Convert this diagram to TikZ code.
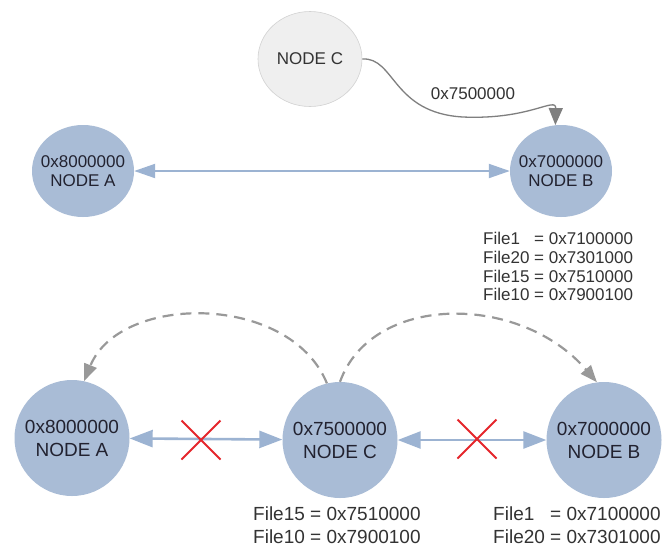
\documentclass[tikz,border=0pt]{standalone}
\usepackage{fontspec}
\setmainfont{Liberation Sans}
\usetikzlibrary{arrows.meta,shapes.geometric,shapes.misc}

\definecolor{nodefill}{HTML}{A9BCD6}
\definecolor{linkblue}{HTML}{9CB3D2}
\definecolor{greynode}{HTML}{EFEFEF}
\definecolor{greyedge}{HTML}{D2D2D2}
\definecolor{dashgrey}{HTML}{999999}
\definecolor{curvegrey}{HTML}{7F7F7F}
\definecolor{crossred}{HTML}{E5262C}
\definecolor{txt}{HTML}{222230}
\definecolor{listtxt}{HTML}{333333}

\tikzset{
  % the ellipse size is fixed by the minimum sizes, not by the text
  peer/.style={ellipse, fill=nodefill, draw=none, inner xsep=-20pt, inner ysep=0pt,
    align=center, text=txt},
  smallpeer/.style={peer, minimum width=102pt, minimum height=92pt,
    font=\fontsize{17}{19}\selectfont},
  bigpeer/.style={peer, minimum width=115pt, minimum height=116pt,
    font=\fontsize{19}{23}\selectfont},
  newpeer/.style={ellipse, fill=greynode, draw=greyedge, line width=0.6pt,
    minimum width=104pt, minimum height=95pt, inner xsep=-20pt, inner ysep=0pt,
    text=listtxt, font=\fontsize{17}{19}\selectfont},
  filelist/.style={inner sep=0pt, anchor=west, text=listtxt},
  toplink/.style={linkblue, line width=2pt,
    {Triangle[length=21pt,width=14pt]}-{Triangle[length=21pt,width=14pt]}},
  botlink/.style={linkblue, line width=2.6pt,
    {Triangle[length=23pt,width=17pt]}-{Triangle[length=23pt,width=17pt]}},
  joinlink/.style={curvegrey, line width=1.3pt, -{Triangle[length=17pt,width=14pt]}},
  movelink/.style={dashgrey, line width=2.2pt, dash pattern=on 11pt off 7pt,
    -{Triangle[length=17pt,width=13pt]}},
  blocked/.style={cross out, draw=crossred, line width=2pt,
    minimum width=37pt, minimum height=37pt, inner sep=0pt}
}

\begin{document}
\begin{tikzpicture}[x=1pt,y=-1pt]
\useasboundingbox[fill=white] (0,0) rectangle (664,547);

% --- ring before the join ---
\node[newpeer] (tC) at (310,59) {NODE C};
\node[smallpeer] (tA) at (83,171) {0x8000000\\NODE A};
\node[smallpeer] (tB) at (561,171) {0x7000000\\NODE B};

\draw[toplink] (tA) -- (tB);
\draw[joinlink] (tC.east) .. controls (395,57) and (392,113) .. (463,117)
  .. controls (530,120) and (556,96) .. (tB.97);
\node[text=listtxt, font=\fontsize{17}{19}\selectfont] (lbl) at (473,94) {0x7500000};

\node[filelist, font=\fontsize{17}{18.7}\selectfont] (listB) at (483,269)
  {\begin{tabular}{@{}l@{ }l@{}}
   File1 & = 0x7100000\\
   File20 & = 0x7301000\\
   File15 & = 0x7510000\\
   File10 & = 0x7900100
   \end{tabular}};

% --- ring after the join ---
\node[bigpeer] (bA) at (72,438) {0x8000000\\NODE A};
\node[bigpeer] (bC) at (340,440) {0x7500000\\NODE C};
\node[bigpeer] (bB) at (604,440) {0x7000000\\NODE B};

\draw[botlink] (bA) -- (bC);
\draw[botlink] (bC) -- (bB);

\node[blocked] (xAC) at (201,440) {};
\node[blocked] (xCB) at (477,439) {};

\draw[movelink] (bC.103) .. controls (290,293) and (120,293) .. (bA.78);
\draw[movelink] (bC.north) .. controls (372,293) and (520,293) .. (bB.97);

\node[filelist, font=\fontsize{19}{23}\selectfont] (listC) at (253,527)
  {\begin{tabular}{@{}l@{ }l@{}}
   File15 & = 0x7510000\\
   File10 & = 0x7900100
   \end{tabular}};
\node[filelist, font=\fontsize{19}{23}\selectfont] (listBb) at (493,527)
  {\begin{tabular}{@{}l@{ }l@{}}
   File1 & = 0x7100000\\
   File20 & = 0x7301000
   \end{tabular}};
\end{tikzpicture}
\end{document}
